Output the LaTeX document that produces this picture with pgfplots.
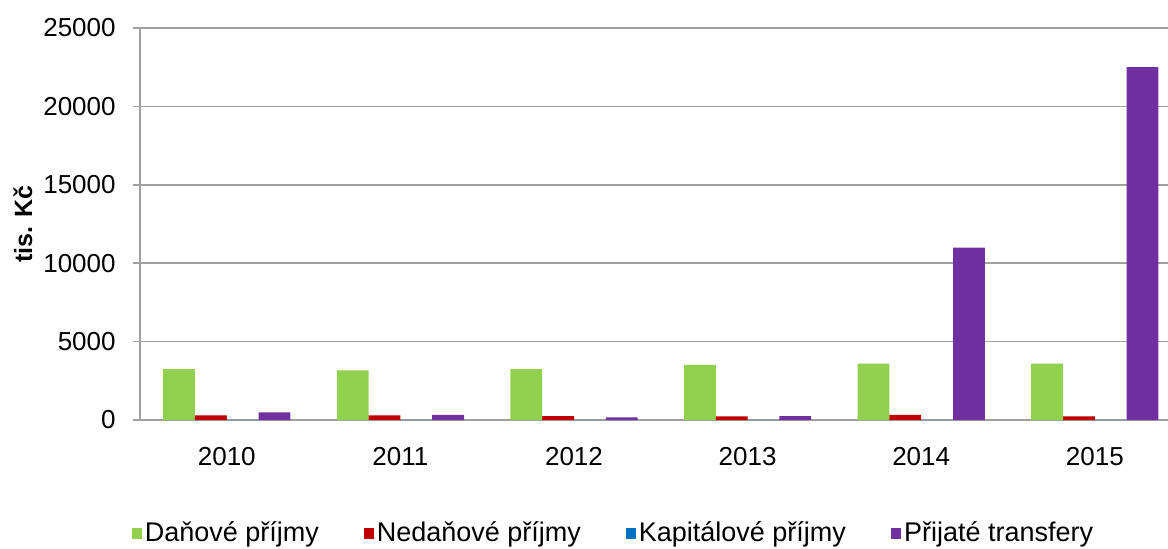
\documentclass[border=0pt]{standalone}
\usepackage{pgfplots}
\pgfplotsset{compat=1.18}
\usepackage{fontspec}
\setmainfont{Liberation Sans}
\definecolor{cgreen}{HTML}{92D050}
\definecolor{cred}{HTML}{C00000}
\definecolor{cblue}{HTML}{0070C0}
\definecolor{cpurple}{HTML}{7030A0}
\definecolor{axgray}{RGB}{160,160,160}
\begin{document}
\fontsize{13}{15}\selectfont
\begin{tikzpicture}[x=1pt,y=1pt]
\path[use as bounding box] (-70,-64) rectangle (514,210);
\begin{axis}[
  at={(0,0)}, anchor=south west,
  scale only axis, width=520.8pt, height=196pt,
  xmin=-0.5, xmax=5.5, ymin=0, ymax=25000,
  ybar=0pt, bar width=15.9pt,
  xtick={0,1,2,3,4,5},
  xticklabels={2010,2011,2012,2013,2014,2015},
  ytick={0,5000,10000,15000,20000,25000},
  scaled y ticks=false,
  /pgf/number format/assume math mode=true,
  /pgf/number format/set thousands separator={},
  axis x line*=bottom, axis y line*=left,
  axis line style={axgray, line width=0.8pt},
  ymajorgrids, grid style={axgray, line width=0.8pt},
  x tick style={draw=none},
  y tick style={axgray, line width=0.8pt},
  tick align=outside, major tick length=3.5pt,
  xticklabel style={anchor=base, yshift=-19pt, font=\fontsize{13}{15}\selectfont},
  yticklabel style={anchor=east, inner sep=0pt, xshift=-8.5pt, font=\fontsize{13}{15}\selectfont},
  ylabel={\bfseries tis. Kč},
  ylabel style={at={(axis description cs:-0.1125,0.5)}, anchor=center, font=\fontsize{12.5}{15}\selectfont},
  legend columns=4,
  legend style={at={(axis description cs:0.455,-0.29)}, anchor=center, draw=none, fill=none,
    font=\fontsize{13.5}{15}\selectfont,
    /tikz/every even column/.append style={column sep=21pt},
    nodes={inner sep=1.5pt}},
  legend image code/.code={\fill[#1] (0pt,-2.6pt) rectangle (5pt,2.6pt);},
]
\addplot[fill=cgreen, draw=none] coordinates {(0,3250) (1,3170) (2,3250) (3,3510) (4,3590) (5,3590)};
\addplot[fill=cred, draw=none] coordinates {(0,300) (1,300) (2,250) (3,230) (4,320) (5,230)};
\addplot[fill=cblue, draw=none] coordinates {(0,0) (1,0) (2,0) (3,0) (4,0) (5,0)};
\addplot[fill=cpurple, draw=none] coordinates {(0,490) (1,320) (2,160) (3,240) (4,11000) (5,22500)};
\legend{Daňové příjmy, Nedaňové příjmy, Kapitálové příjmy, Přijaté transfery}
\end{axis}
\end{tikzpicture}
\end{document}
